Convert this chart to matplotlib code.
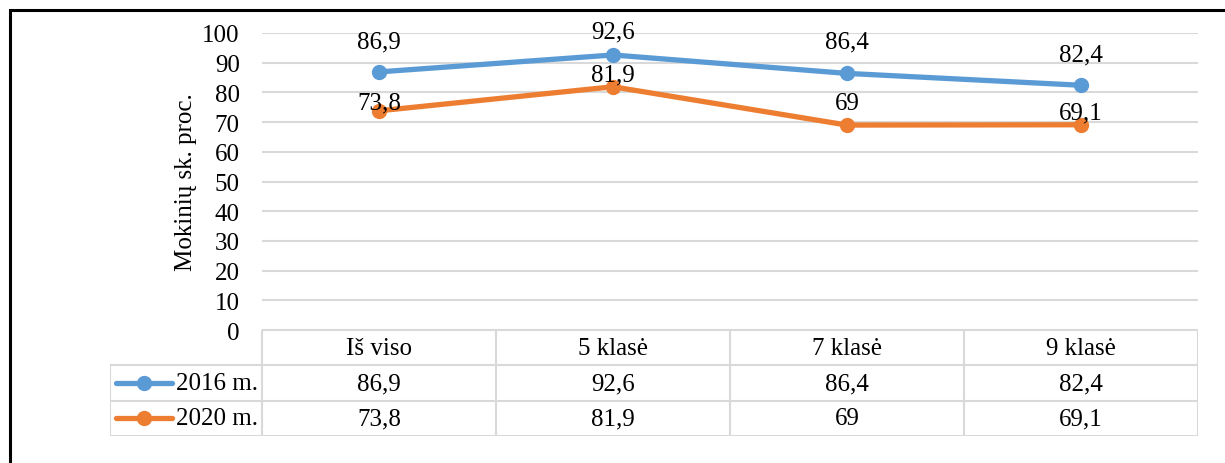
import matplotlib.pyplot as plt
from matplotlib.patches import Rectangle

plt.rcParams['font.family'] = ['Liberation Serif', 'DejaVu Serif']

categories = ['Iš viso', '5 klasė', '7 klasė', '9 klasė']
series_names = ['2016 m.', '2020 m.']
v2016 = [86.9, 92.6, 86.4, 82.4]
v2020 = [73.8, 81.9, 69, 69.1]
labels2016 = ['86,9', '92,6', '86,4', '82,4']
labels2020 = ['73,8', '81,9', '69', '69,1']
colors = ['#5B9BD5', '#ED7D31']

# label offsets above the points (points)
off2016 = [22, 17, 23, 22]
off2020 = [6, 9, 16, 9]

W, H = 1225, 464
fig = plt.figure(figsize=(W / 100, H / 100), dpi=100)
fs = 18

# outer border
fig.patches.append(Rectangle((10 / W, -0.05), 1.2, 1 - 11 / H + 0.05, transform=fig.transFigure,
                             fill=False, edgecolor='black', linewidth=2.2))

x0, x1, ytop, y0 = 262, 1198, 34, 331
ax = fig.add_axes([x0 / W, 1 - y0 / H, (x1 - x0) / W, (y0 - ytop) / H])
ax.set_xlim(-0.5, 3.5)
ax.set_ylim(0, 100)
ax.set_yticks(range(0, 101, 10))
ax.yaxis.grid(True, color='#D9D9D9', linewidth=1.5)
ax.set_axisbelow(True)
for s in ax.spines.values():
    s.set_visible(False)
ax.set_xticks([])
ax.tick_params(axis='y', length=0, pad=16, labelsize=fs)
ax.set_ylabel('Mokinių sk. proc.', fontsize=fs, labelpad=4)

xs = range(len(categories))
for vals, labs, offs, c in [(v2016, labels2016, off2016, colors[0]), (v2020, labels2020, off2020, colors[1])]:
    ax.plot(xs, vals, color=c, linewidth=3.8, marker='o', markersize=10, solid_capstyle='round', zorder=3)
    for x, v, lab, o in zip(xs, vals, labs, offs):
        ax.annotate(lab, (x, v), xytext=(0, o), textcoords='offset points', ha='center', va='center',
                    fontsize=fs, zorder=4)

# data table
tl, tb = 110, 437
tax = fig.add_axes([tl / W, 1 - tb / H, (x1 - tl) / W, (tb - y0) / H])
left_w = (x0 - tl) / ((x1 - x0) / 4)
tax.set_xlim(-0.5 - left_w, 3.5)
tax.set_ylim(3, 0)
tax.axis('off')
gc = '#D9D9D9'
lw = 1.5
# horizontal lines
tax.plot([-0.5, 3.5], [0, 0], color=gc, lw=lw)
for r in [1, 2, 3]:
    tax.plot([-0.5 - left_w, 3.5], [r, r], color=gc, lw=lw)
# vertical lines
tax.plot([-0.5 - left_w] * 2, [1, 3], color=gc, lw=lw)
for c in range(5):
    tax.plot([c - 0.5] * 2, [0, 3], color=gc, lw=lw)

for i, cat in enumerate(categories):
    tax.text(i, 0.5, cat, ha='center', va='center', fontsize=fs)
for r, (labs, c, name) in enumerate(zip([labels2016, labels2020], colors, series_names)):
    yrow = r + 1.5
    for i, lab in enumerate(labs):
        tax.text(i, yrow, lab, ha='center', va='center', fontsize=fs)
    kx0 = -0.5 - left_w + 6 / 234
    kx1 = kx0 + 56 / 234
    tax.plot([kx0, kx1], [yrow, yrow], color=c, lw=3.8, solid_capstyle='round')
    tax.plot([(kx0 + kx1) / 2], [yrow], 'o', color=c, markersize=10)
    tax.text(kx1 + 4 / 234, yrow, name, ha='left', va='center', fontsize=fs)

fig.savefig('out.png', dpi=100)
